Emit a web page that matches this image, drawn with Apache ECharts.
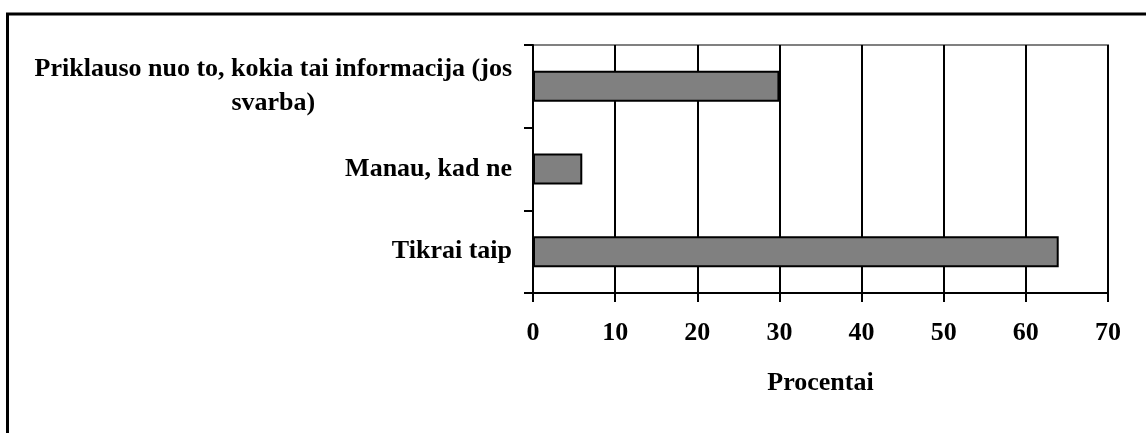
<!DOCTYPE html>
<html>
<head>
<meta charset="utf-8">
<script src="https://cdn.jsdelivr.net/npm/echarts@6/dist/echarts.min.js"></script>
<style>
html,body{margin:0;padding:0;background:#fff;}
#chart{width:1146px;height:433px;}
</style>
</head>
<body>
<div id="chart"></div>
<script>
var categories = ['Tikrai taip', 'Manau, kad ne', 'Priklauso nuo to, kokia tai informacija (jos\nsvarba)'];
var values = [64, 6, 30];
var xTicks = [0, 10, 20, 30, 40, 50, 60, 70];

var font = '"Liberation Serif", "Times New Roman", serif';

function createChart() {
	var myChart = echarts.init(document.getElementById('chart'));
	var option = {
		animation: false,
		graphic: [{
			type: 'rect',
			shape: {x: 7.5, y: 14, width: 1300, height: 600},
			style: {fill: null, stroke: '#000', lineWidth: 3},
			z: 100
		}],
		grid: {
			left: 533, right: 38, top: 45, bottom: 140,
			show: true, borderColor: '#808080', borderWidth: 2
		},
		xAxis: {
			type: 'value',
			min: xTicks[0],
			max: xTicks[xTicks.length - 1],
			interval: 10,
			name: 'Procentai',
			nameLocation: 'middle',
			nameGap: 77,
			nameTextStyle: {fontFamily: font, fontWeight: 'bold', fontSize: 26, color: '#000'},
			axisLine: {show: true, lineStyle: {color: '#000', width: 2}},
			axisTick: {show: true, length: 9, lineStyle: {color: '#000', width: 2}},
			axisLabel: {margin: 27, fontFamily: font, fontWeight: 'bold', fontSize: 26, color: '#000'},
			splitLine: {show: true, lineStyle: {color: '#000', width: 2}}
		},
		yAxis: {
			type: 'category',
			data: categories,
			axisLine: {show: true, lineStyle: {color: '#000', width: 2}},
			axisTick: {show: true, length: 9, inside: false, lineStyle: {color: '#000', width: 2}},
			axisLabel: {
				margin: 21,
				fontFamily: font, fontWeight: 'bold', fontSize: 26, color: '#000',
				formatter: function (v) {
					if (v.indexOf('\n') < 0) return v;
					return v.split('\n').map(function (s) { return '{c|' + s + '}'; }).join('\n');
				},
				rich: {
					c: {align: 'center', fontFamily: font, fontWeight: 'bold', fontSize: 26, color: '#000', lineHeight: 34}
				}
			}
		},
		series: [{
			type: 'bar',
			data: values,
			barWidth: 31,
			itemStyle: {color: '#808080', borderColor: '#000', borderWidth: 2}
		}]
	};
	myChart.setOption(option);
}
createChart();
</script>
</body>
</html>
